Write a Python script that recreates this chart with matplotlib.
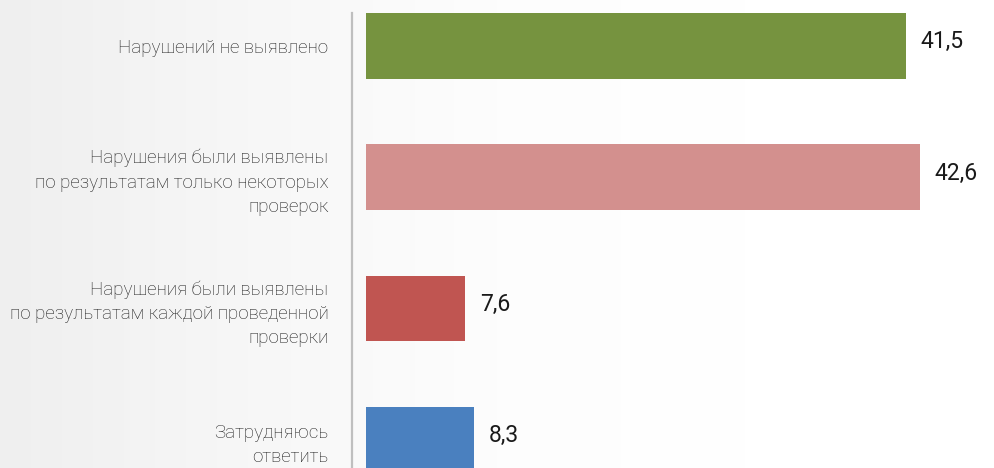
import numpy as np
import matplotlib.pyplot as plt
from matplotlib.colors import LinearSegmentedColormap

# data
categories = [
    "Нарушений не выявлено",
    "Нарушения были выявлены\nпо результатам только некоторых\nпроверок",
    "Нарушения были выявлены\nпо результатам каждой проведенной\nпроверки",
    "Затрудняюсь\nответить",
]
values = [41.5, 42.6, 7.6, 8.3]
value_labels = ["41,5", "42,6", "7,6", "8,3"]
colors = ["#76933f", "#d3908e", "#c05551", "#4a80bf"]

plt.rcParams['font.family'] = ['Roboto', 'DejaVu Sans']

W, H = 994, 468
fig = plt.figure(figsize=(W / 100, H / 100), dpi=100)

# soft grey-to-white backdrop
bg = fig.add_axes([0, 0, 1, 1], zorder=-1)
grad = np.linspace(0, 1, 256).reshape(1, -1)
cmap = LinearSegmentedColormap.from_list("bg", ["#efefef", "#f7f7f7", "#fdfdfd", "#ffffff", "#ffffff"])
bg.imshow(grad, aspect="auto", cmap=cmap, extent=[0, 1, 0, 1])
bg.axis("off")

# main axes: left edge at the grey axis line
x0 = 352 / W
ax = fig.add_axes([x0, 0, 1 - x0, (H - 13) / H])
ax.patch.set_alpha(0)

px_per_unit = 13.0
left = -14 / px_per_unit
ax.set_xlim(left, left + (W - 352) / px_per_unit)
ax.set_ylim(3.214, -0.25)

y = np.arange(len(values))
ax.barh(y, values, height=0.5, color=colors, zorder=2)

for yi, v, lab in zip(y, values, value_labels):
    ax.text(v + 15 / px_per_unit, yi - 0.03, lab, va="center", ha="left",
            fontsize=16.5, color="#1a1a1a")

ax.set_yticks(y)
ax.set_yticklabels(categories, fontsize=13.5, fontweight="light", color="#1e1e1e",
                   linespacing=1.45)
ax.tick_params(axis="y", length=0, pad=17)
ax.set_xticks([])

for s in ["top", "right", "bottom"]:
    ax.spines[s].set_visible(False)
ax.spines["left"].set_color("#bfbfbf")
ax.spines["left"].set_linewidth(1.6)

fig.savefig("out.png", dpi=100)
